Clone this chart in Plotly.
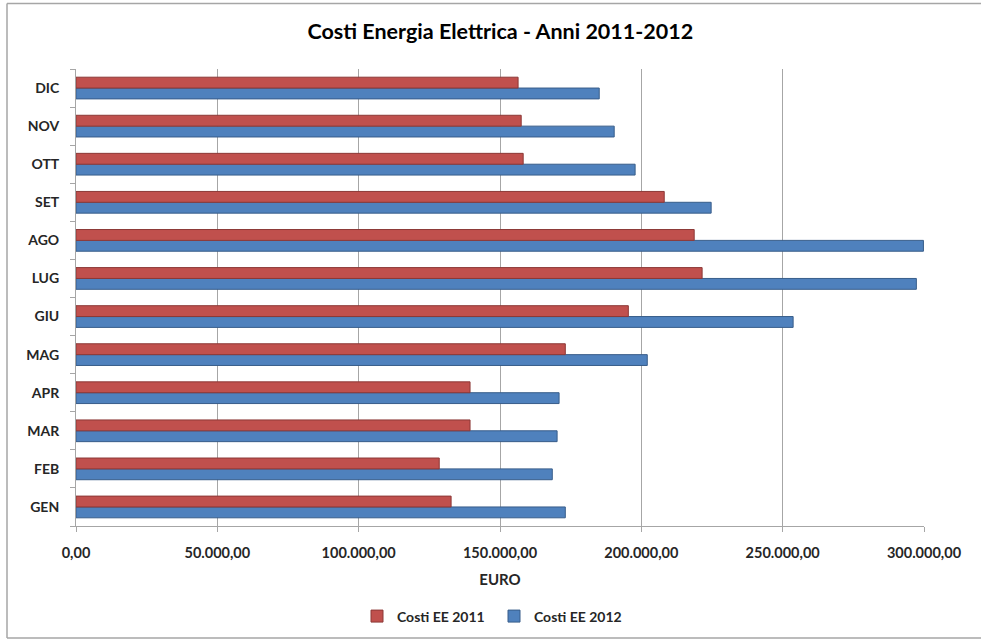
import plotly.graph_objects as go

# Monthly electricity costs (EUR), January to December
mesi = ["GEN", "FEB", "MAR", "APR", "MAG", "GIU", "LUG", "AGO", "SET", "OTT", "NOV", "DIC"]
costi_2011 = [132700, 128500, 139400, 139400, 173100, 195400, 221500, 218700, 208100, 158200, 157500, 156400]
costi_2012 = [173100, 168500, 170200, 170900, 202100, 253700, 297300, 299800, 224700, 197800, 190400, 185100]

FONT = "Lato, 'Open Sans', Arial, sans-serif"

fig = go.Figure()
# 2012 first so it sits on the lower half of each pair
fig.add_trace(go.Bar(
    y=mesi, x=costi_2012, orientation="h", name="Costi EE 2012",
    marker=dict(color="#4F81BD", line=dict(color="#385D8A", width=1)),
    legendrank=2,
))
fig.add_trace(go.Bar(
    y=mesi, x=costi_2011, orientation="h", name="Costi EE 2011",
    marker=dict(color="#C0504D", line=dict(color="#8C3836", width=1)),
    legendrank=1,
))

fig.update_layout(
    width=981, height=644,
    margin=dict(l=76, r=57, t=69, b=114),
    paper_bgcolor="white", plot_bgcolor="white",
    separators=",.",
    barmode="group", bargap=0.43, bargroupgap=0,
    font=dict(family=FONT, size=14, color="#262626", weight="bold"),
    title=dict(
        text="Costi Energia Elettrica - Anni 2011-2012",
        x=0.51, xanchor="center", y=1 - 31 / 644, yanchor="middle",
        font=dict(family=FONT, size=21.5, color="#000000", weight="bold"),
    ),
    legend=dict(
        orientation="h", x=0.5 - 6 / 848, xanchor="center", y=-0.198, yanchor="middle",
        font=dict(family=FONT, size=14, color="#262626", weight="bold"),
        itemwidth=30, traceorder="normal",
        entrywidth=92, entrywidthmode="pixels",
    ),
    showlegend=True,
)

fig.update_xaxes(
    range=[0, 300000], tickvals=[0, 50000, 100000, 150000, 200000, 250000, 300000],
    tickformat=",.2f",
    tickfont=dict(size=14.5),
    showgrid=True, gridcolor="#A6A6A6", gridwidth=1,
    showline=True, linecolor="#A6A6A6", linewidth=1,
    ticks="outside", ticklen=5, tickcolor="#A6A6A6",
    ticklabelstandoff=9,
    zeroline=False,
    title=dict(text="EURO", standoff=14,
               font=dict(family=FONT, size=15, color="#262626", weight="bold")),
)
fig.update_yaxes(
    categoryorder="array", categoryarray=mesi,
    range=[-0.5, 11.5],
    tickfont=dict(size=14),
    showgrid=False,
    showline=True, linecolor="#A6A6A6", linewidth=1,
    ticks="outside", tickson="boundaries", ticklen=5, tickcolor="#A6A6A6",
    ticklabelstandoff=13,
)

# Chart frame: left, top and bottom edges
frame_left, frame_top, frame_bottom = 7 / 981, 1 - 3 / 644, 1 - 643 / 644
for x0, y0, x1, y1 in [
    (frame_left, frame_bottom, frame_left, frame_top),
    (frame_left, frame_top, 1.0, frame_top),
    (frame_left, frame_bottom, 1.0, frame_bottom),
]:
    fig.add_shape(
        type="line", xref="paper", yref="paper",
        x0=(x0 * 981 - 76) / 848, x1=(x1 * 981 - 76) / 848,
        y0=(y0 * 644 - 114) / 461, y1=(y1 * 644 - 114) / 461,
        line=dict(color="#A6A6A6", width=1.5), layer="below",
    )

fig.write_html("out.html")
